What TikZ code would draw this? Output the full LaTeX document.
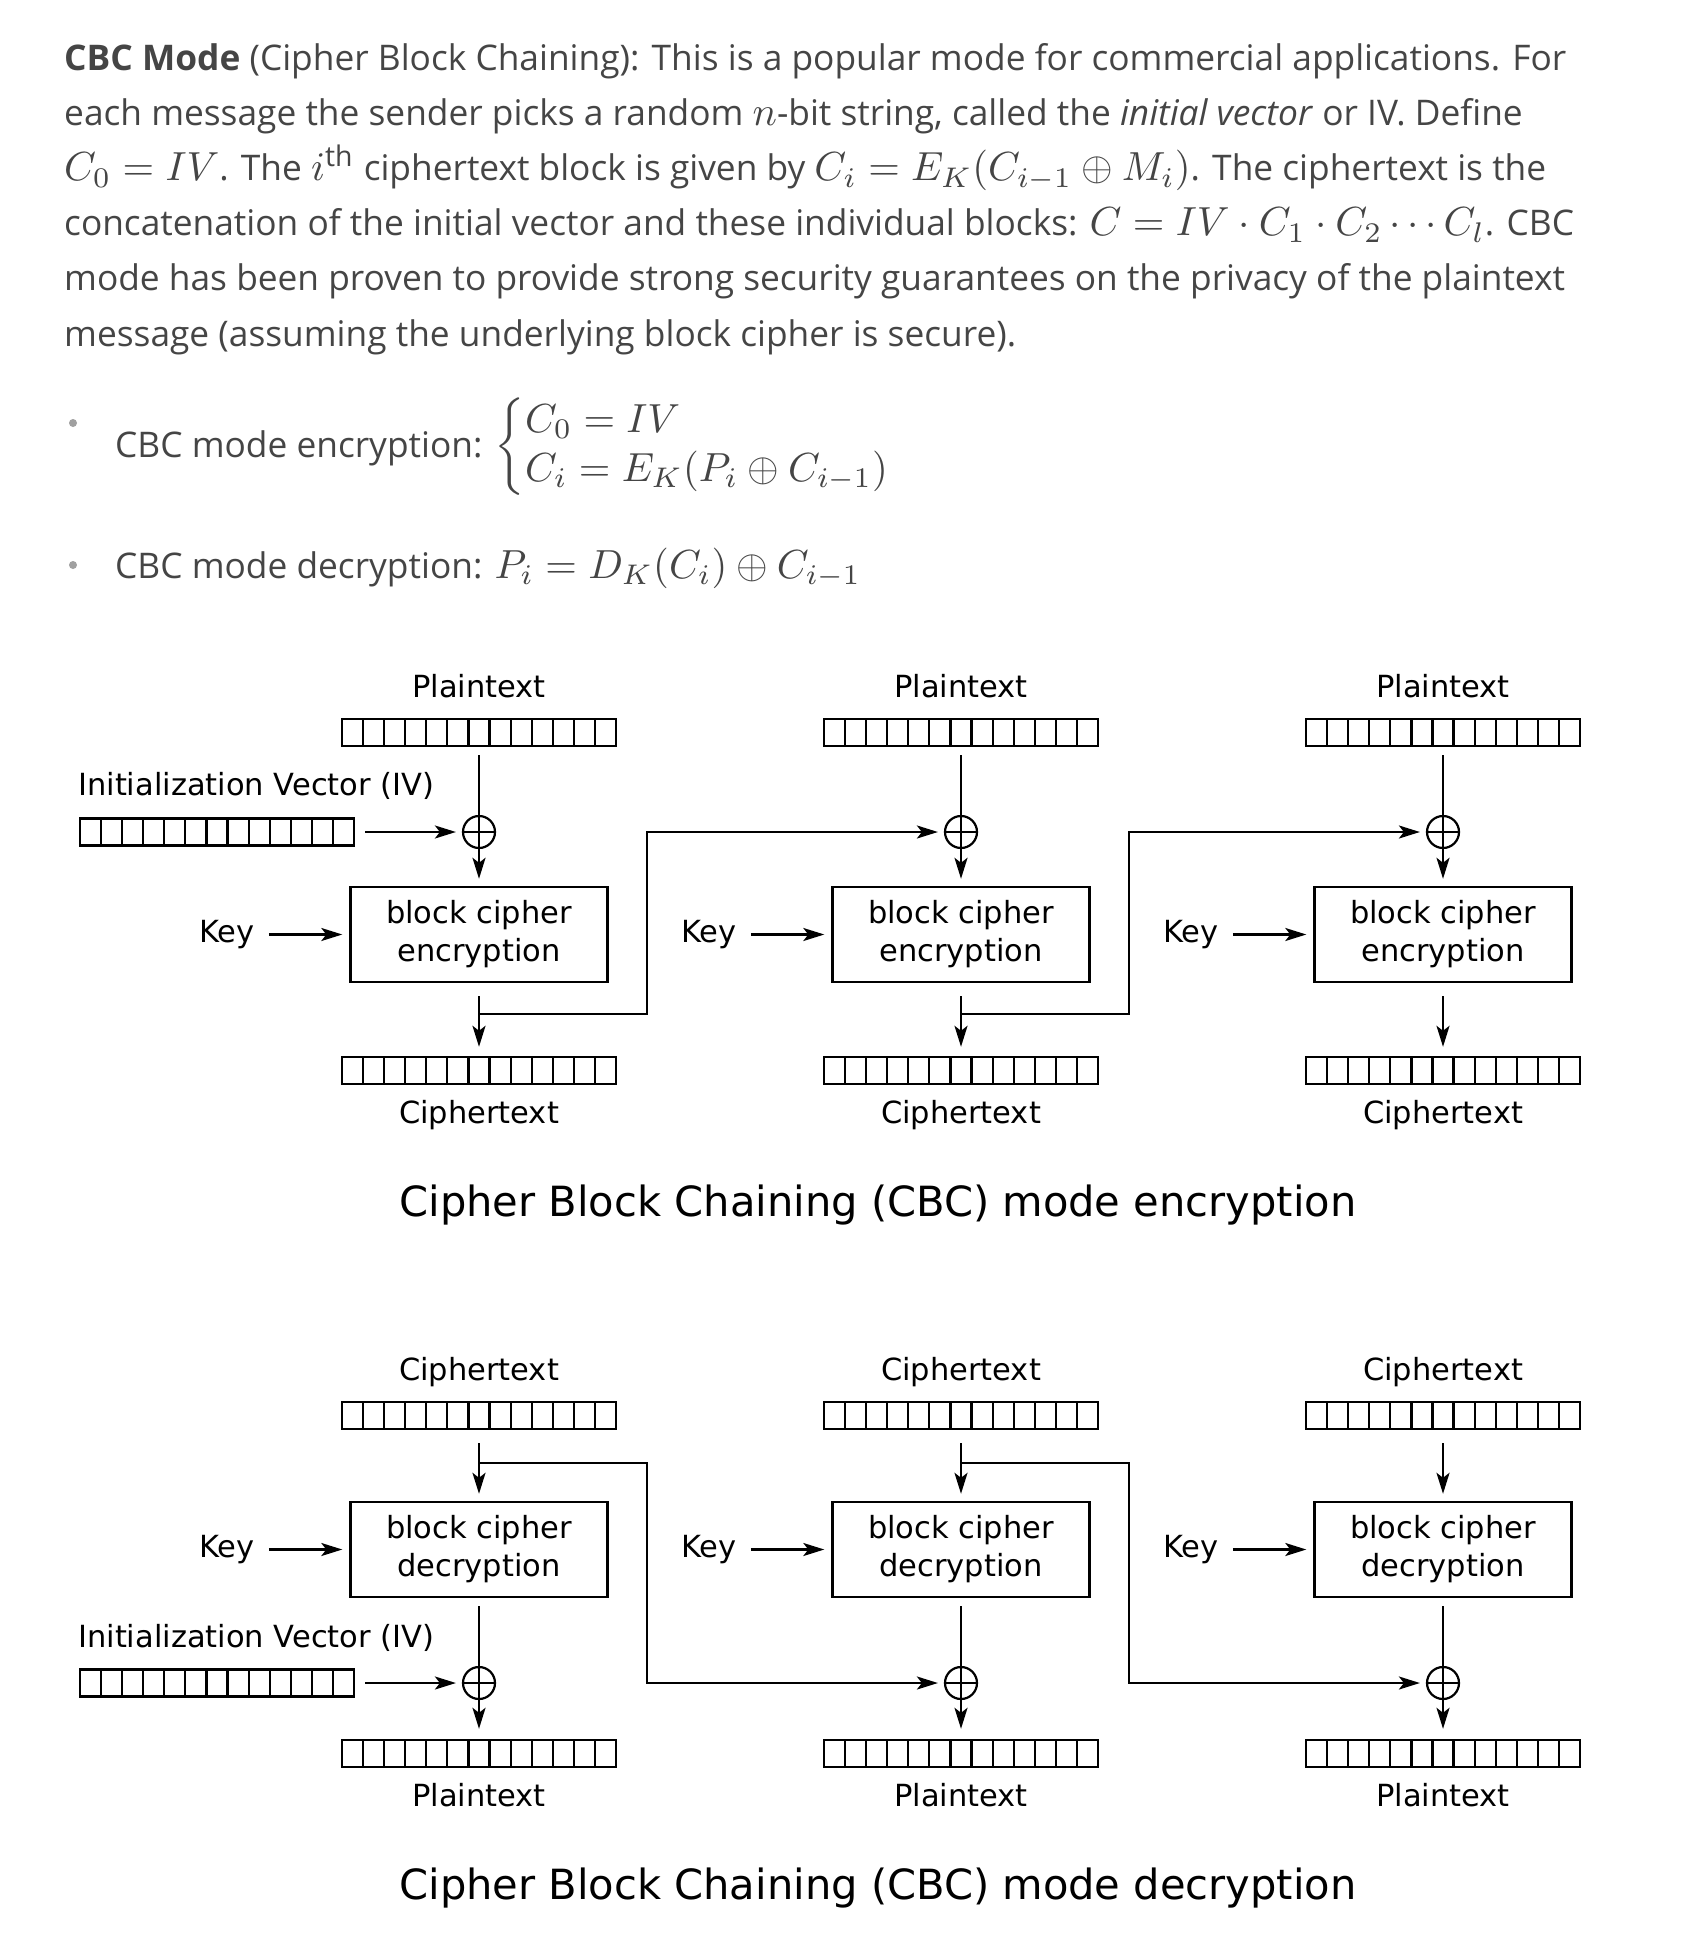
\documentclass[tikz,border=0pt]{standalone}
\usepackage{amsmath}
\usepackage{graphicx}
\usepackage{fontspec}
\setmainfont{Open Sans}
\newfontfamily\djv{DejaVu Sans}
\usetikzlibrary{arrows.meta,calc}
\definecolor{txt}{HTML}{454545}
\definecolor{bul}{HTML}{A0A0A0}
\newcommand\mth[1]{{\fontsize{10}{10.06}\selectfont\scalebox{4.06}{$#1$}}}
\begin{document}
\begin{tikzpicture}[x=1pt,y=-1pt,
 para/.style={anchor=base west, inner sep=0pt, text=txt, font=\fontsize{35.3}{55}\selectfont},
 lbl/.style={anchor=base, inner sep=0pt, font=\djv\fontsize{30.5}{38}\selectfont},
 ivl/.style={anchor=base west, inner sep=0pt, font=\djv\fontsize{30.5}{38}\selectfont},
 ttl/.style={anchor=base, inner sep=0pt, font=\djv\fontsize{41.6}{48}\selectfont},
 cbox/.style={draw, line width=2.4pt, minimum width=257pt, minimum height=95pt, align=center, inner sep=0pt, font=\djv\fontsize{30.5}{38}\selectfont},
 reg/.style={draw, line width=2.4pt, minimum width=274pt, minimum height=27pt, inner sep=0pt,
   path picture={\foreach \k in {1,...,12}{\draw[line width=2.2pt]
     ($(path picture bounding box.south west)!\k/13!(path picture bounding box.south east)$) --
     ($(path picture bounding box.north west)!\k/13!(path picture bounding box.north east)$);}}},
 xor/.style={circle, draw, line width=2.2pt, minimum size=32pt, inner sep=0pt,
   path picture={\draw[line width=2.2pt] (path picture bounding box.north) -- (path picture bounding box.south)
     (path picture bounding box.west) -- (path picture bounding box.east);}},
 ln/.style={line width=2.3pt},
 arr/.style={line width=2.3pt, -{Stealth[length=21pt,width=13pt,inset=5pt]}},
]
\useasboundingbox (0,0) rectangle (1693,1934);
\fill[white] (0,0) rectangle (1693,1934);

% ---------- paragraph ----------
\node[para] (l1) at (64,71) {\textbf{CBC Mode} (Cipher Block Chaining): This is a popular mode for commercial applications. For};
\node[para] (l2) at (64,126) {each message the sender picks a random \mth{n}-bit string, called the \textit{initial vector} or IV. Define};
\node[para] (l3) at (64,181) {\mth{C_0 = IV}. The \mth{i^{\mathrm{th}}} ciphertext block is given by \mth{C_i = E_K(C_{i-1} \oplus M_i)}. The ciphertext is the};
\node[para] (l4) at (64,236) {concatenation of the initial vector and these individual blocks: \mth{C = IV \cdot C_1 \cdot C_2 \cdots C_l}. CBC};
\node[para] (l5) at (64,291) {mode has been proven to provide strong security guarantees on the privacy of the plaintext};
\node[para] (l6) at (64,346) {message (assuming the underlying block cipher is secure).};

% ---------- bullets ----------
\fill[bul] (73,423) circle (4);
\fill[bul] (73,565) circle (4);
\node[para] (b1) at (115,457) {CBC mode encryption: \mth{\begin{cases} C_0 = IV \\ C_i = E_K(P_i \oplus C_{i-1}) \end{cases}}};
\node[para] (b2) at (115,578) {CBC mode decryption: \mth{P_i = D_K(C_i) \oplus C_{i-1}}};

% ---------- encryption ----------
\foreach \i/\cx in {1/479,2/961,3/1443}{
 \node[lbl] (ep\i) at (\cx,697) {Plaintext};
 \node[reg] (epr\i) at (\cx,732.5) {};
 \node[xor] (ex\i) at (\cx,832) {};
 \node[cbox] (eb\i) at (\cx,934.5) {block cipher\\encryption};
 \node[lbl] (ek\i) at (\cx-252,942) {Key};
 \node[reg] (ecr\i) at (\cx,1070.5) {};
 \node[lbl] (ec\i) at (\cx,1123) {Ciphertext};
 \draw[ln,shorten <=8pt] (epr\i.south) -- (ex\i.north);
 \draw[arr,shorten >=7pt] (ex\i.south) -- (eb\i.north);
 \draw[arr,shorten <=14pt,shorten >=7pt] (ek\i.east |- eb\i.west) -- (eb\i.west);
 \draw[arr,shorten <=13pt,shorten >=9pt] (eb\i.south) -- (ecr\i.north);
}
\node[ivl] (eiv) at (78,795) {Initialization Vector (IV)};
\node[reg] (eivr) at (217,832) {};
\draw[arr,shorten <=10pt,shorten >=6pt] (eivr.east) -- (ex1.west);
\coordinate (eo1) at (479,1014);
\coordinate (eh1) at (647,1014);
\coordinate (eo2) at (961,1014);
\coordinate (eh2) at (1129,1014);
\draw[arr,shorten >=6pt] (eo1) -- (eh1) |- (ex2.west);
\draw[arr,shorten >=6pt] (eo2) -- (eh2) |- (ex3.west);
\node[ttl] (et) at (878,1216) {Cipher Block Chaining (CBC) mode encryption};

% ---------- decryption ----------
\foreach \i/\cx in {1/479,2/961,3/1443}{
 \node[lbl] (dc\i) at (\cx,1380) {Ciphertext};
 \node[reg] (dcr\i) at (\cx,1415.5) {};
 \node[cbox] (db\i) at (\cx,1549.5) {block cipher\\decryption};
 \node[lbl] (dk\i) at (\cx-252,1557) {Key};
 \node[xor] (dx\i) at (\cx,1683) {};
 \node[reg] (dpr\i) at (\cx,1753.5) {};
 \node[lbl] (dp\i) at (\cx,1806) {Plaintext};
 \draw[arr,shorten <=13pt,shorten >=7pt] (dcr\i.south) -- (db\i.north);
 \draw[arr,shorten <=14pt,shorten >=7pt] (dk\i.east |- db\i.west) -- (db\i.west);
 \draw[ln,shorten <=8pt] (db\i.south) -- (dx\i.north);
 \draw[arr,shorten >=10pt] (dx\i.south) -- (dpr\i.north);
}
\node[ivl] (div) at (78,1647) {Initialization Vector (IV)};
\node[reg] (divr) at (217,1683) {};
\draw[arr,shorten <=10pt,shorten >=6pt] (divr.east) -- (dx1.west);
\coordinate (do1) at (479,1463);
\coordinate (dh1) at (647,1463);
\coordinate (do2) at (961,1463);
\coordinate (dh2) at (1129,1463);
\draw[arr,shorten >=6pt] (do1) -- (dh1) |- (dx2.west);
\draw[arr,shorten >=6pt] (do2) -- (dh2) |- (dx3.west);
\node[ttl] (dt) at (878,1899) {Cipher Block Chaining (CBC) mode decryption};
\end{tikzpicture}
\end{document}
